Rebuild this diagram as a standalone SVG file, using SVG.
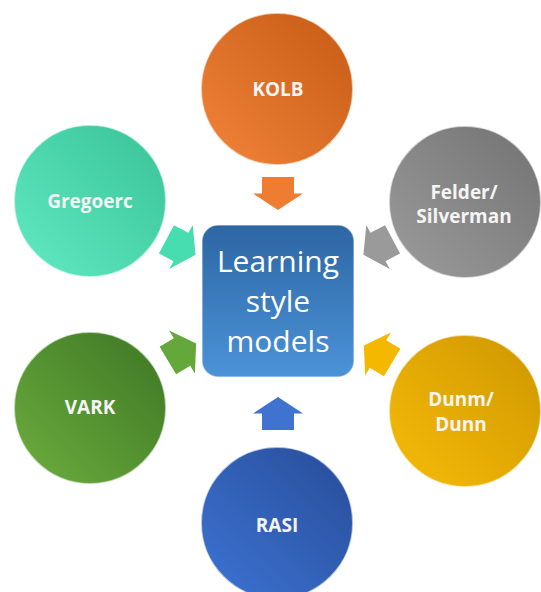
<svg xmlns="http://www.w3.org/2000/svg" width="541" height="592" viewBox="0 0 541 592">
  <defs>
    <linearGradient id="gOrange" x1="0" y1="1" x2="1" y2="0">
      <stop offset="0" stop-color="#F2843A"/>
      <stop offset="1" stop-color="#C65A14"/>
    </linearGradient>
    <linearGradient id="gTeal" x1="0" y1="1" x2="1" y2="0">
      <stop offset="0" stop-color="#62EBC4"/>
      <stop offset="1" stop-color="#38C295"/>
    </linearGradient>
    <linearGradient id="gGray" x1="0" y1="1" x2="1" y2="0">
      <stop offset="0" stop-color="#9C9C9C"/>
      <stop offset="1" stop-color="#727272"/>
    </linearGradient>
    <linearGradient id="gGreen" x1="0" y1="1" x2="1" y2="0">
      <stop offset="0" stop-color="#6CAE3E"/>
      <stop offset="1" stop-color="#3D7624"/>
    </linearGradient>
    <linearGradient id="gGold" x1="0" y1="1" x2="1" y2="0">
      <stop offset="0" stop-color="#F6BC08"/>
      <stop offset="1" stop-color="#CF9600"/>
    </linearGradient>
    <linearGradient id="gBlue" x1="0" y1="1" x2="1" y2="0">
      <stop offset="0" stop-color="#3D74D4"/>
      <stop offset="1" stop-color="#274C98"/>
    </linearGradient>
    <linearGradient id="gBox" x1="0" y1="0" x2="0" y2="1">
      <stop offset="0" stop-color="#2D66A3"/>
      <stop offset="1" stop-color="#4B93D8"/>
    </linearGradient>
    <path id="arrow" d="M-16.5,-16 H0 V-25 L16.5,0 L0,25 V16 H-16.5 Z"/>
  </defs>
  <style>
    .node circle { stroke: #ffffff; stroke-opacity: 0.6; stroke-width: 2; }
    .lbl { font-family: "Open Sans", "Liberation Sans", sans-serif; font-weight: bold; font-size: 19px; fill: #f4f4f4; text-anchor: middle; }
    .center { font-family: "Open Sans", "Liberation Sans", sans-serif; font-size: 30px; fill: #ffffff; text-anchor: middle; }
  </style>
  <rect width="541" height="592" fill="#ffffff"/>

  <g id="connectors">
    <use href="#arrow" fill="#EE7D31" transform="translate(278,193.5) rotate(90)"/>
    <use href="#arrow" fill="#3F73CF" transform="translate(278,413.5) rotate(-90)"/>
    <use href="#arrow" fill="#48DDB0" transform="translate(181,247) rotate(28)"/>
    <use href="#arrow" fill="#9A9A9A" transform="translate(378,247) rotate(152)"/>
    <use href="#arrow" fill="#64A83C" transform="translate(182,352) rotate(-31)"/>
    <use href="#arrow" fill="#F4B800" transform="translate(378,354) rotate(-149)"/>
  </g>

  <g id="center" class="node">
    <rect x="202" y="225" width="152" height="152" rx="16" fill="url(#gBox)" stroke="#ffffff" stroke-opacity="0.5" stroke-width="1.5"/>
    <text class="center" x="278" y="272">Learning</text>
    <text class="center" x="278" y="312">style</text>
    <text class="center" x="278" y="352">models</text>
  </g>

  <g id="kolb" class="node">
    <circle cx="277" cy="89" r="76" fill="url(#gOrange)"/>
    <text class="lbl" x="278" y="96">KOLB</text>
  </g>
  <g id="felder" class="node">
    <circle cx="465" cy="202" r="76" fill="url(#gGray)"/>
    <text class="lbl" x="464" y="199">Felder/</text>
    <text class="lbl" x="464" y="223">Silverman</text>
  </g>
  <g id="dunn" class="node">
    <circle cx="465" cy="411" r="76" fill="url(#gGold)"/>
    <text class="lbl" x="461" y="406">Dunm/</text>
    <text class="lbl" x="461" y="431">Dunn</text>
  </g>
  <g id="rasi" class="node">
    <circle cx="277" cy="523" r="76" fill="url(#gBlue)"/>
    <text class="lbl" x="277" y="532">RASI</text>
  </g>
  <g id="vark" class="node">
    <circle cx="90" cy="408" r="76" fill="url(#gGreen)"/>
    <text class="lbl" x="90" y="414">VARK</text>
  </g>
  <g id="gregoerc" class="node">
    <circle cx="90" cy="201" r="76" fill="url(#gTeal)"/>
    <text class="lbl" x="90" y="208">Gregoerc</text>
  </g>
</svg>
